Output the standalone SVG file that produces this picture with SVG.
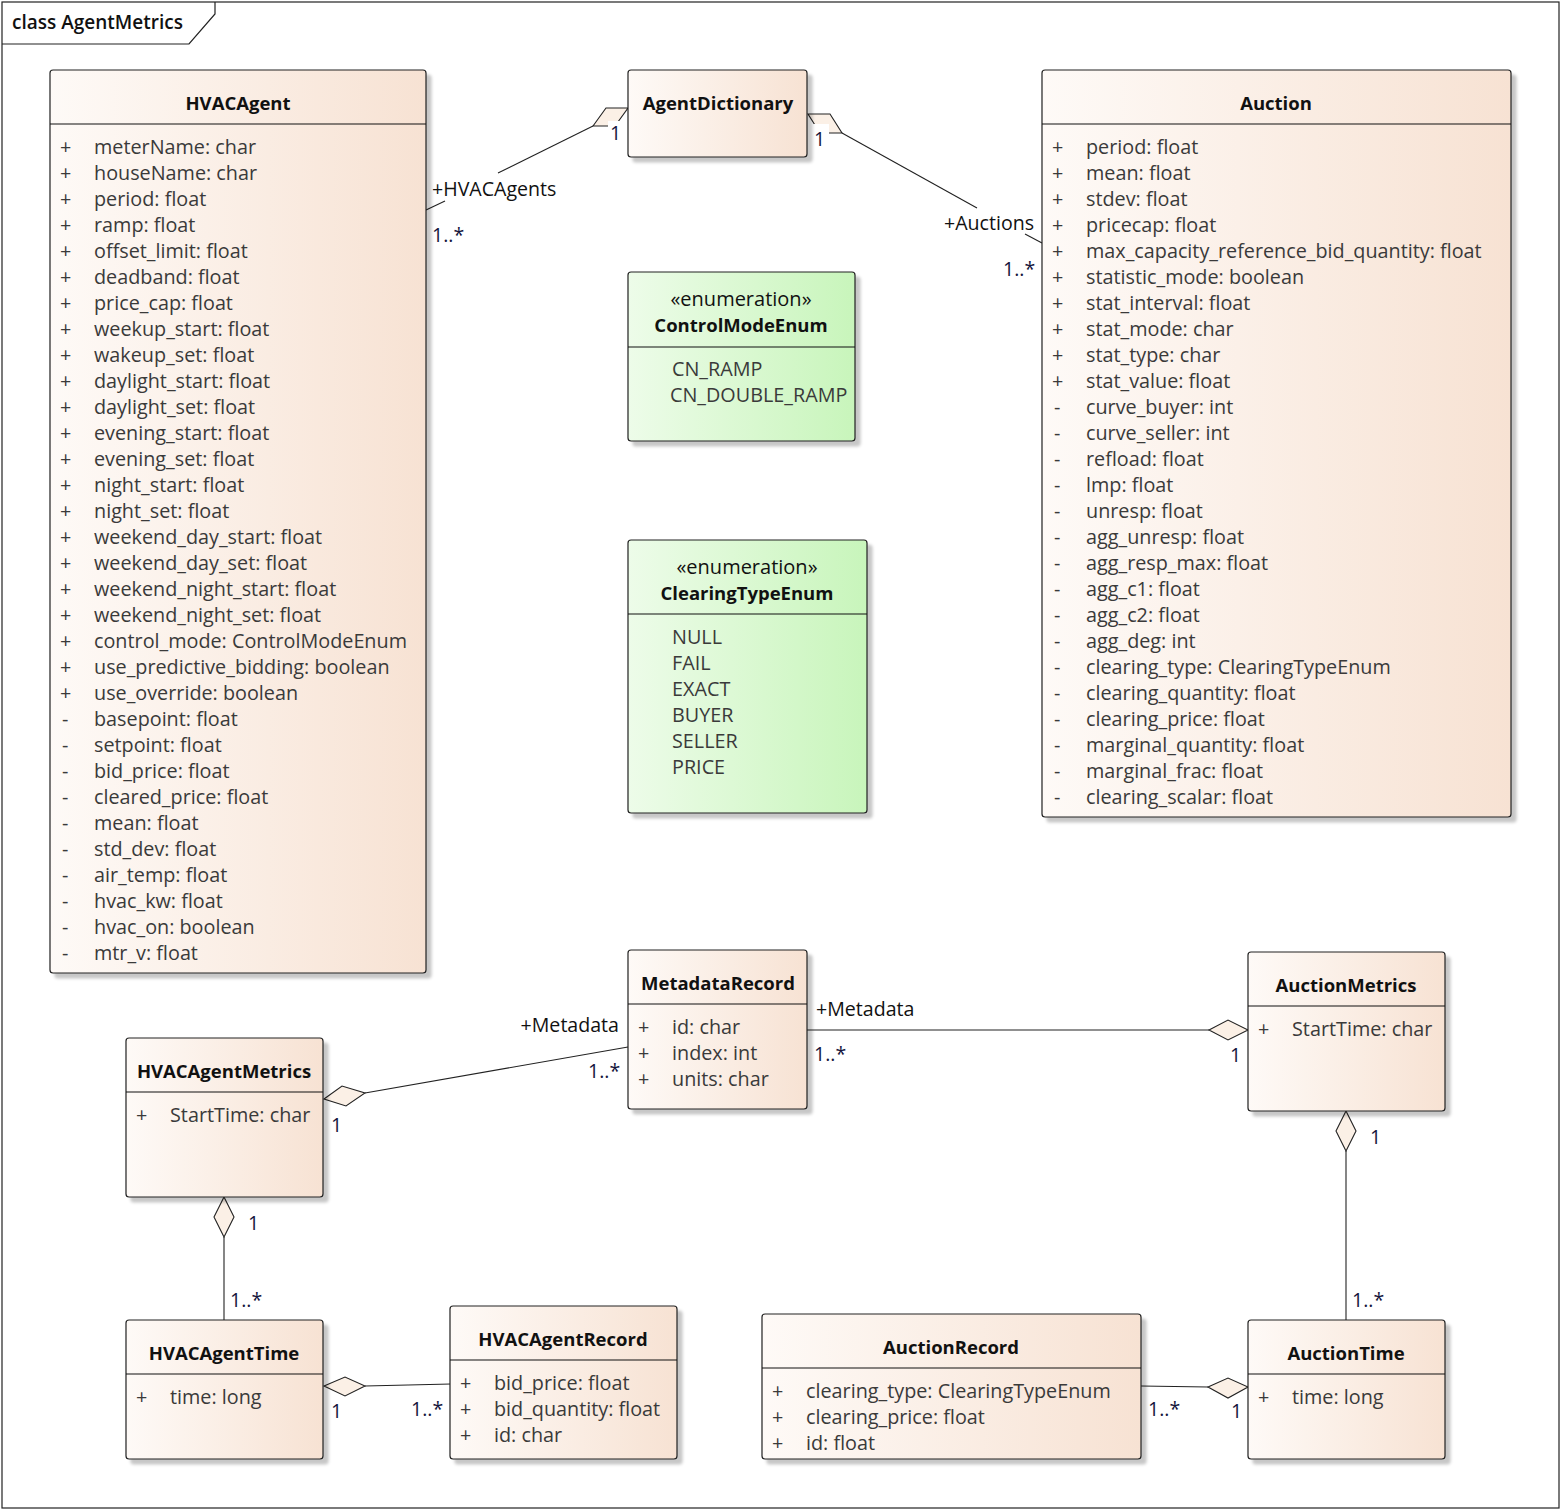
<svg xmlns="http://www.w3.org/2000/svg" width="1562" height="1510" viewBox="0 0 1562 1510">
<defs>
<linearGradient id="peach" x1="0" y1="0" x2="1" y2="0">
<stop offset="0" stop-color="#fefaf7"/>
<stop offset="1" stop-color="#f7e2d3"/>
</linearGradient>
<linearGradient id="green" x1="0" y1="0" x2="1" y2="0">
<stop offset="0" stop-color="#edfce9"/>
<stop offset="1" stop-color="#c8f5bb"/>
</linearGradient>
<filter id="sh" x="-5%" y="-5%" width="115%" height="115%">
<feDropShadow dx="5" dy="5" stdDeviation="1.5" flood-color="#000" flood-opacity="0.22"/>
</filter>
</defs>
<style>
text{font-family:"Open Sans","Noto Sans","Liberation Sans",sans-serif;dominant-baseline:central}
.box{fill:url(#peach);stroke:#222;stroke-width:1.2;filter:url(#sh)}
.enum{fill:url(#green);stroke:#222;stroke-width:1.2;filter:url(#sh)}
.div{stroke:#111;stroke-width:1.2}
.title{font-size:18.5px;font-weight:bold;fill:#111;text-anchor:middle}
.st{font-size:20px;fill:#111;text-anchor:middle}
.at{font-size:19.8px;fill:#3a3a3a}
.lbl{font-size:19.6px;fill:#111}
.mul{font-size:19.5px;fill:#14143c}
.ln{fill:none;stroke:#222;stroke-width:1.1}
.dia{fill:#fbf0e6;stroke:#222;stroke-width:1.1}
</style>
<rect x="0" y="0" width="1562" height="1510" fill="#fff"/>
<g id="frame">
<rect x="2" y="2" width="1557" height="1506" fill="none" stroke="#222" stroke-width="1.2"/>
<path d="M2 44 H189 L215 14 V2" fill="none" stroke="#222" stroke-width="1.2"/>
<text x="12" y="22" style="font-size:19px;fill:#111;font-weight:600">class AgentMetrics</text>
</g>
<g id="connectors">
<polyline class="ln" points="426,210 445,201"/>
<polyline class="ln" points="498,173 593,126"/>
<polygon class="dia" points="593,126 606,108 628,108 615,126"/>
<rect x="608" y="121" width="17" height="24" fill="#fff"/>
<text class="lbl" x="432" y="188">+HVACAgents</text>
<text class="mul" x="432" y="234">1..*</text>
<text class="mul" x="610" y="132">1</text>
<polyline class="ln" points="842,133 977,208"/>
<polyline class="ln" points="1025,234 1042,243"/>
<polygon class="dia" points="808,114 830,114 842,133 820,133"/>
<rect x="812" y="124" width="17" height="24" fill="#fff"/>
<text class="lbl" x="944" y="222">+Auctions</text>
<text class="mul" x="1003" y="268">1..*</text>
<text class="mul" x="814" y="138">1</text>
<polyline class="ln" points="365,1093 628,1047"/>
<polygon class="dia" points="324,1099 342,1086 365,1093 346,1106"/>
<text class="lbl" x="619" y="1024" text-anchor="end">+Metadata</text>
<text class="mul" x="588" y="1070">1..*</text>
<text class="mul" x="331" y="1124">1</text>
<polyline class="ln" points="807,1030 1209,1030"/>
<polygon class="dia" points="1209,1030 1228,1020 1248,1030 1228,1040"/>
<text class="lbl" x="816" y="1008">+Metadata</text>
<text class="mul" x="814" y="1053">1..*</text>
<text class="mul" x="1230" y="1054">1</text>
<polyline class="ln" points="1346,1151 1346,1320"/>
<polygon class="dia" points="1346,1111 1356,1131 1346,1151 1336,1131"/>
<text class="mul" x="1370" y="1136">1</text>
<text class="mul" x="1352" y="1299">1..*</text>
<polyline class="ln" points="224,1237 224,1320"/>
<polygon class="dia" points="224,1197 234,1217 224,1237 214,1217"/>
<text class="mul" x="248" y="1222">1</text>
<text class="mul" x="230" y="1299">1..*</text>
<polyline class="ln" points="365,1386 451,1384"/>
<polygon class="dia" points="324,1386 345,1377 365,1386 345,1396"/>
<text class="mul" x="331" y="1410">1</text>
<text class="mul" x="411" y="1408">1..*</text>
<polyline class="ln" points="1141,1386 1208,1387"/>
<polygon class="dia" points="1208,1387 1228,1378 1248,1387 1228,1398"/>
<text class="mul" x="1148" y="1408">1..*</text>
<text class="mul" x="1231" y="1410">1</text>
</g>
<g id="HVACAgent">
<rect class="box" x="50" y="70" width="376" height="903" rx="3"/>
<line class="div" x1="50" y1="124" x2="426" y2="124"/>
<text class="title" x="238" y="102">HVACAgent</text>
<g class="at">
<text x="60" y="146">+</text><text x="94" y="146">meterName: char</text>
<text x="60" y="172">+</text><text x="94" y="172">houseName: char</text>
<text x="60" y="198">+</text><text x="94" y="198">period: float</text>
<text x="60" y="224">+</text><text x="94" y="224">ramp: float</text>
<text x="60" y="250">+</text><text x="94" y="250">offset_limit: float</text>
<text x="60" y="276">+</text><text x="94" y="276">deadband: float</text>
<text x="60" y="302">+</text><text x="94" y="302">price_cap: float</text>
<text x="60" y="328">+</text><text x="94" y="328">weekup_start: float</text>
<text x="60" y="354">+</text><text x="94" y="354">wakeup_set: float</text>
<text x="60" y="380">+</text><text x="94" y="380">daylight_start: float</text>
<text x="60" y="406">+</text><text x="94" y="406">daylight_set: float</text>
<text x="60" y="432">+</text><text x="94" y="432">evening_start: float</text>
<text x="60" y="458">+</text><text x="94" y="458">evening_set: float</text>
<text x="60" y="484">+</text><text x="94" y="484">night_start: float</text>
<text x="60" y="510">+</text><text x="94" y="510">night_set: float</text>
<text x="60" y="536">+</text><text x="94" y="536">weekend_day_start: float</text>
<text x="60" y="562">+</text><text x="94" y="562">weekend_day_set: float</text>
<text x="60" y="588">+</text><text x="94" y="588">weekend_night_start: float</text>
<text x="60" y="614">+</text><text x="94" y="614">weekend_night_set: float</text>
<text x="60" y="640">+</text><text x="94" y="640">control_mode: ControlModeEnum</text>
<text x="60" y="666">+</text><text x="94" y="666">use_predictive_bidding: boolean</text>
<text x="60" y="692">+</text><text x="94" y="692">use_override: boolean</text>
<text x="62" y="718">-</text><text x="94" y="718">basepoint: float</text>
<text x="62" y="744">-</text><text x="94" y="744">setpoint: float</text>
<text x="62" y="770">-</text><text x="94" y="770">bid_price: float</text>
<text x="62" y="796">-</text><text x="94" y="796">cleared_price: float</text>
<text x="62" y="822">-</text><text x="94" y="822">mean: float</text>
<text x="62" y="848">-</text><text x="94" y="848">std_dev: float</text>
<text x="62" y="874">-</text><text x="94" y="874">air_temp: float</text>
<text x="62" y="900">-</text><text x="94" y="900">hvac_kw: float</text>
<text x="62" y="926">-</text><text x="94" y="926">hvac_on: boolean</text>
<text x="62" y="952">-</text><text x="94" y="952">mtr_v: float</text>
</g>
</g>
<g id="AgentDictionary">
<rect class="box" x="628" y="70" width="179" height="87" rx="3"/>
<text class="title" x="718" y="102">AgentDictionary</text>
</g>
<g id="Auction">
<rect class="box" x="1042" y="70" width="469" height="747" rx="3"/>
<line class="div" x1="1042" y1="124" x2="1511" y2="124"/>
<text class="title" x="1276" y="102">Auction</text>
<g class="at">
<text x="1052" y="146">+</text><text x="1086" y="146">period: float</text>
<text x="1052" y="172">+</text><text x="1086" y="172">mean: float</text>
<text x="1052" y="198">+</text><text x="1086" y="198">stdev: float</text>
<text x="1052" y="224">+</text><text x="1086" y="224">pricecap: float</text>
<text x="1052" y="250">+</text><text x="1086" y="250">max_capacity_reference_bid_quantity: float</text>
<text x="1052" y="276">+</text><text x="1086" y="276">statistic_mode: boolean</text>
<text x="1052" y="302">+</text><text x="1086" y="302">stat_interval: float</text>
<text x="1052" y="328">+</text><text x="1086" y="328">stat_mode: char</text>
<text x="1052" y="354">+</text><text x="1086" y="354">stat_type: char</text>
<text x="1052" y="380">+</text><text x="1086" y="380">stat_value: float</text>
<text x="1054" y="406">-</text><text x="1086" y="406">curve_buyer: int</text>
<text x="1054" y="432">-</text><text x="1086" y="432">curve_seller: int</text>
<text x="1054" y="458">-</text><text x="1086" y="458">refload: float</text>
<text x="1054" y="484">-</text><text x="1086" y="484">lmp: float</text>
<text x="1054" y="510">-</text><text x="1086" y="510">unresp: float</text>
<text x="1054" y="536">-</text><text x="1086" y="536">agg_unresp: float</text>
<text x="1054" y="562">-</text><text x="1086" y="562">agg_resp_max: float</text>
<text x="1054" y="588">-</text><text x="1086" y="588">agg_c1: float</text>
<text x="1054" y="614">-</text><text x="1086" y="614">agg_c2: float</text>
<text x="1054" y="640">-</text><text x="1086" y="640">agg_deg: int</text>
<text x="1054" y="666">-</text><text x="1086" y="666">clearing_type: ClearingTypeEnum</text>
<text x="1054" y="692">-</text><text x="1086" y="692">clearing_quantity: float</text>
<text x="1054" y="718">-</text><text x="1086" y="718">clearing_price: float</text>
<text x="1054" y="744">-</text><text x="1086" y="744">marginal_quantity: float</text>
<text x="1054" y="770">-</text><text x="1086" y="770">marginal_frac: float</text>
<text x="1054" y="796">-</text><text x="1086" y="796">clearing_scalar: float</text>
</g>
</g>
<g id="ControlModeEnum">
<rect class="enum" x="628" y="272" width="227" height="169" rx="3"/>
<line class="div" x1="628" y1="347" x2="855" y2="347"/>
<text class="st" x="741" y="298">«enumeration»</text>
<text class="title" x="741" y="324">ControlModeEnum</text>
<text class="at" x="672" y="368">CN_RAMP</text>
<text class="at" x="670" y="394">CN_DOUBLE_RAMP</text>
</g>
<g id="ClearingTypeEnum">
<rect class="enum" x="628" y="540" width="239" height="273" rx="3"/>
<line class="div" x1="628" y1="614" x2="867" y2="614"/>
<text class="st" x="747" y="566">«enumeration»</text>
<text class="title" x="747" y="592">ClearingTypeEnum</text>
<g class="at">
<text x="672" y="636">NULL</text>
<text x="672" y="662">FAIL</text>
<text x="672" y="688">EXACT</text>
<text x="672" y="714">BUYER</text>
<text x="672" y="740">SELLER</text>
<text x="672" y="766">PRICE</text>
</g>
</g>
<g id="MetadataRecord">
<rect class="box" x="628" y="950" width="179" height="159" rx="3"/>
<line class="div" x1="628" y1="1004" x2="807" y2="1004"/>
<text class="title" x="718" y="982">MetadataRecord</text>
<g class="at">
<text x="638" y="1026">+</text><text x="672" y="1026">id: char</text>
<text x="638" y="1052">+</text><text x="672" y="1052">index: int</text>
<text x="638" y="1078">+</text><text x="672" y="1078">units: char</text>
</g>
</g>
<g id="AuctionMetrics">
<rect class="box" x="1248" y="952" width="197" height="159" rx="3"/>
<line class="div" x1="1248" y1="1006" x2="1445" y2="1006"/>
<text class="title" x="1346" y="984">AuctionMetrics</text>
<text class="at" x="1258" y="1028">+</text><text class="at" x="1292" y="1028">StartTime: char</text>
</g>
<g id="HVACAgentMetrics">
<rect class="box" x="126" y="1038" width="197" height="159" rx="3"/>
<line class="div" x1="126" y1="1092" x2="323" y2="1092"/>
<text class="title" x="224" y="1070">HVACAgentMetrics</text>
<text class="at" x="136" y="1114">+</text><text class="at" x="170" y="1114">StartTime: char</text>
</g>
<g id="HVACAgentTime">
<rect class="box" x="126" y="1320" width="197" height="139" rx="3"/>
<line class="div" x1="126" y1="1374" x2="323" y2="1374"/>
<text class="title" x="224" y="1352">HVACAgentTime</text>
<text class="at" x="136" y="1396">+</text><text class="at" x="170" y="1396">time: long</text>
</g>
<g id="HVACAgentRecord">
<rect class="box" x="450" y="1306" width="227" height="153" rx="3"/>
<line class="div" x1="450" y1="1360" x2="677" y2="1360"/>
<text class="title" x="563" y="1338">HVACAgentRecord</text>
<g class="at">
<text x="460" y="1382">+</text><text x="494" y="1382">bid_price: float</text>
<text x="460" y="1408">+</text><text x="494" y="1408">bid_quantity: float</text>
<text x="460" y="1434">+</text><text x="494" y="1434">id: char</text>
</g>
</g>
<g id="AuctionRecord">
<rect class="box" x="762" y="1314" width="379" height="145" rx="3"/>
<line class="div" x1="762" y1="1368" x2="1141" y2="1368"/>
<text class="title" x="951" y="1346">AuctionRecord</text>
<g class="at">
<text x="772" y="1390">+</text><text x="806" y="1390">clearing_type: ClearingTypeEnum</text>
<text x="772" y="1416">+</text><text x="806" y="1416">clearing_price: float</text>
<text x="772" y="1442">+</text><text x="806" y="1442">id: float</text>
</g>
</g>
<g id="AuctionTime">
<rect class="box" x="1248" y="1320" width="197" height="139" rx="3"/>
<line class="div" x1="1248" y1="1374" x2="1445" y2="1374"/>
<text class="title" x="1346" y="1352">AuctionTime</text>
<text class="at" x="1258" y="1396">+</text><text class="at" x="1292" y="1396">time: long</text>
</g>
</svg>
